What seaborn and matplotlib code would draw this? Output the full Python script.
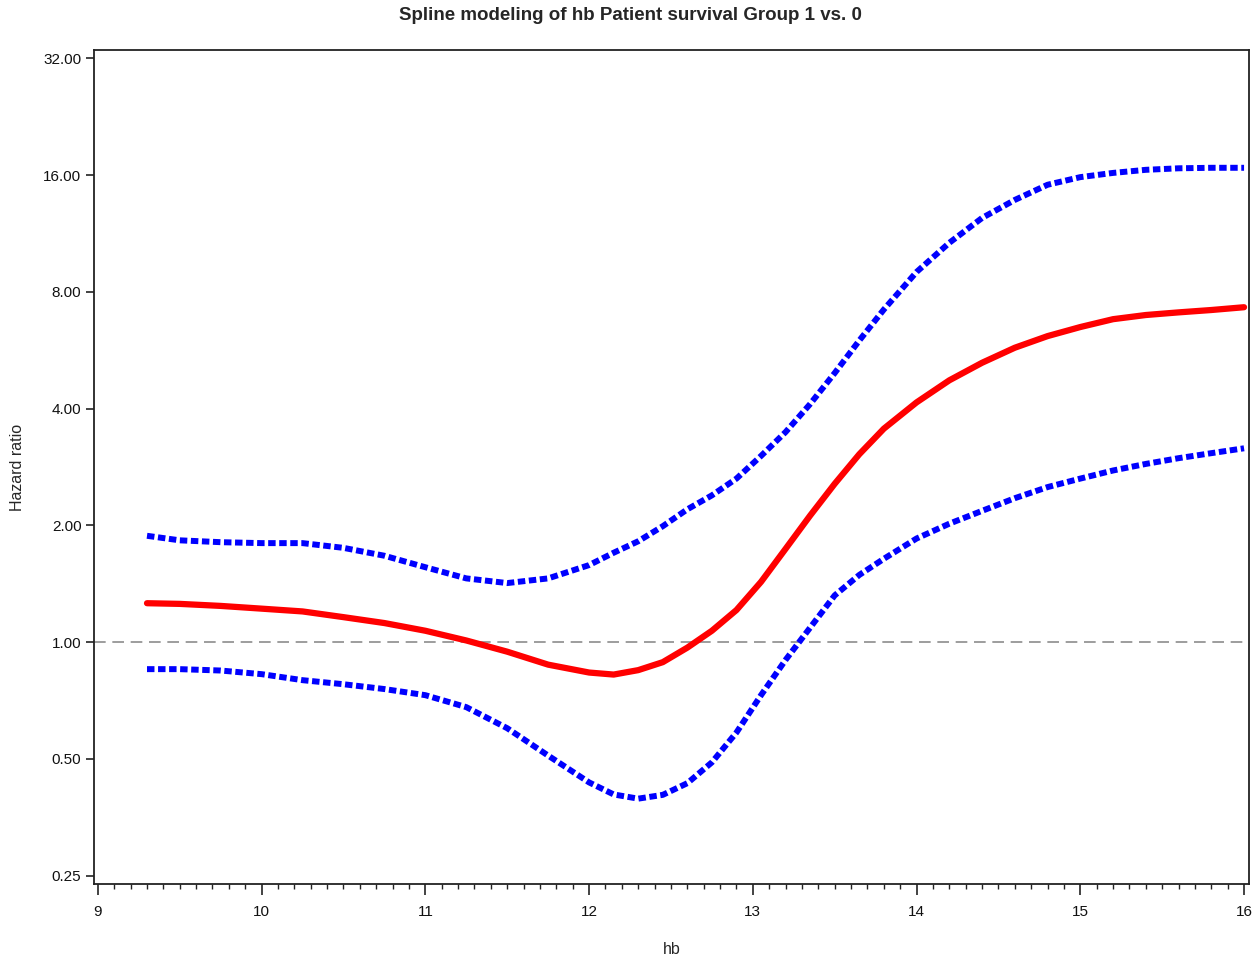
import numpy as np
import pandas as pd
import matplotlib
matplotlib.use("Agg")
import matplotlib.pyplot as plt
from matplotlib.ticker import FixedLocator, MultipleLocator, FormatStrFormatter, NullLocator
import seaborn as sns

hb = [9.3, 9.5, 9.75, 10.0, 10.25, 10.5, 10.75, 11.0, 11.25, 11.5, 11.75, 12.0,
      12.15, 12.3, 12.45, 12.6, 12.75, 12.9, 13.05, 13.2, 13.35, 13.5, 13.65, 13.8,
      14.0, 14.2, 14.4, 14.6, 14.8, 15.0, 15.2, 15.4, 15.6, 15.8, 16.0]

hr_estimate = [1.26, 1.255, 1.24, 1.22, 1.20, 1.16, 1.12, 1.07, 1.01, 0.945, 0.875, 0.835,
               0.825, 0.847, 0.888, 0.968, 1.07, 1.21, 1.43, 1.74, 2.12, 2.56, 3.05, 3.55,
               4.15, 4.73, 5.25, 5.74, 6.15, 6.49, 6.80, 6.97, 7.08, 7.18, 7.30]

hr_upper = [1.88, 1.83, 1.81, 1.80, 1.80, 1.75, 1.67, 1.56, 1.46, 1.42, 1.46, 1.58,
            1.70, 1.82, 1.99, 2.20, 2.39, 2.64, 3.02, 3.48, 4.11, 4.94, 5.99, 7.2,
            9.0, 10.7, 12.4, 13.8, 15.1, 15.8, 16.2, 16.5, 16.65, 16.7, 16.7]

hr_lower = [0.852, 0.852, 0.845, 0.827, 0.798, 0.779, 0.757, 0.730, 0.68, 0.60, 0.51, 0.435,
            0.405, 0.395, 0.404, 0.433, 0.49, 0.585, 0.73, 0.90, 1.09, 1.32, 1.49, 1.64,
            1.85, 2.02, 2.18, 2.35, 2.51, 2.64, 2.77, 2.88, 2.98, 3.07, 3.16]

y_ticks = [0.25, 0.5, 1.0, 2.0, 4.0, 8.0, 16.0, 32.0]
x_ticks = [9, 10, 11, 12, 13, 14, 15, 16]

title = "Spline modeling of hb Patient survival Group 1 vs. 0"
x_label = "hb"
y_label = "Hazard ratio"

df = pd.DataFrame({"hb": hb, "est": hr_estimate, "upper": hr_upper, "lower": hr_lower})

sns.set_style("ticks")
plt.rcParams["font.family"] = ["Liberation Sans", "DejaVu Sans"]

fig = plt.figure(figsize=(12.56, 9.56), dpi=100)
ax = fig.add_axes([0.0748, 0.0753, 0.9196, 0.8724])

ax.axhline(1.0, color="#8c8c8c", lw=1.2, ls=(0, (7, 4)), zorder=1)

for col in ["upper", "lower"]:
    sns.lineplot(data=df, x="hb", y=col, ax=ax, color="#0000ff", lw=4.3,
                 linestyle=(0, (1.25, 0.6)), dash_capstyle="butt",
                 dash_joinstyle="round", zorder=3)
sns.lineplot(data=df, x="hb", y="est", ax=ax, color="#ff0000", lw=4.5,
             solid_capstyle="round", solid_joinstyle="round", zorder=4)

ax.set_yscale("log", base=2)
ax.set_ylim(0.238, 33.6)
ax.set_xlim(8.976, 16.03)
ax.yaxis.set_major_locator(FixedLocator(y_ticks))
ax.yaxis.set_major_formatter(FormatStrFormatter("%.2f"))
ax.yaxis.set_minor_locator(NullLocator())
ax.xaxis.set_major_locator(FixedLocator(x_ticks))
ax.xaxis.set_minor_locator(MultipleLocator(0.1))

for s in ax.spines.values():
    s.set_visible(True)
    s.set_color("#222222")
    s.set_linewidth(1.3)

ax.tick_params(axis="both", which="major", direction="out", length=6, width=1.2,
               color="#222222", labelsize=11, labelcolor="#111111", pad=3)
ax.tick_params(axis="x", which="major", length=8, pad=7)
ax.tick_params(axis="x", which="minor", direction="out", length=3.5, width=1.0, color="#222222")

ax.set_xlabel(x_label, fontsize=11.5, labelpad=17)
ax.set_ylabel(y_label, fontsize=11.5, labelpad=13)
fig.suptitle(title, fontsize=13.5, fontweight="bold", x=0.502, y=0.993, va="top")

fig.savefig("out.png", dpi=100)
